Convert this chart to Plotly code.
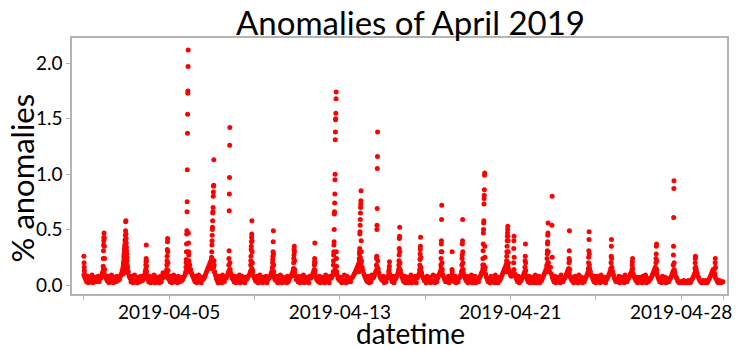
import pandas as pd
import plotly.graph_objects as go

# Hourly anomaly share (in hundredths of a percent), one row per day of April 2019
hourly_rows = [
    "9 7 5 3 8 2 4 7 3 9 2 5 7 3 6 4 8 3 7 6 9 11 14 10",      # Apr 01
    "8 6 4 8 2 6 3 9 5 2 7 4 3 8 4 6 5 8 10 13 16 20 24 27",    # Apr 02
    "22 16 12 8 6 3 8 2 4 9 3 5 2 7 6 3 8 6 4 7 9 12 10 6",     # Apr 03
    "5 3 8 2 7 5 3 9 2 5 7 3 6 2 8 3 6 11 7 8 10 12 9 6",       # Apr 04
    "5 3 8 2 4 9 3 6 4 2 8 4 3 7 4 5 7 8 10 12 14 16 20 18",    # Apr 05
    "14 11 9 7 5 3 8 2 4 9 3 6 2 7 5 6 8 10 12 14 16 18 20 22", # Apr 06
    "24 20 16 12 9 6 4 2 8 3 6 2 9 5 3 7 6 8 10 12 14 11 9 6",  # Apr 07
    "5 3 8 2 4 7 3 9 2 4 8 3 6 2 7 5 6 8 9 11 13 15 12 8",      # Apr 08
    "6 4 3 8 2 6 9 3 5 2 7 3 5 8 2 5 6 7 9 11 13 10 7 5",       # Apr 09
    "4 8 2 5 3 9 4 2 7 3 6 4 2 8 3 5 7 8 10 12 14 11 8 5",      # Apr 10
    "6 3 8 2 4 6 3 9 2 4 7 3 5 2 8 6 7 9 11 13 10 7 5 4",       # Apr 11
    "3 8 2 5 7 3 6 2 9 3 6 4 2 8 6 7 9 11 13 16 12 9 6 5",      # Apr 12
    "4 7 2 5 3 9 4 2 8 3 6 4 3 6 7 8 10 11 13 15 17 19 22 25",  # Apr 13
    "20 16 13 10 8 6 4 3 8 2 6 3 9 6 7 9 11 13 16 14 11 8 6 5", # Apr 14
    "4 8 2 5 3 6 8 12 10 7 5 3 8 2 5 6 8 10 12 15 13 10 7 5",   # Apr 15
    "3 8 2 5 7 2 6 3 9 2 6 4 3 8 2 6 8 10 12 14 11 8 6 4",      # Apr 16
    "5 2 8 3 4 7 2 5 3 9 4 2 8 3 6 8 10 12 15 12 9 7 5 3",      # Apr 17
    "6 3 8 2 4 6 9 7 5 3 8 2 5 3 6 7 9 12 14 11 8 6 4 8",       # Apr 18
    "2 7 3 5 9 2 6 3 8 2 6 4 3 6 8 10 12 15 18 14 10 7 5 3",    # Apr 19
    "6 2 8 3 6 4 2 9 3 6 2 7 4 6 8 10 12 14 16 18 20 17 14 11", # Apr 20
    "9 8 10 12 14 10 7 5 3 8 2 5 4 6 8 10 12 9 7 5 3 8 2 5",    # Apr 21
    "3 7 2 5 9 2 6 3 8 2 6 4 6 8 10 12 14 17 20 15 12 16 10 7", # Apr 22
    "5 3 8 2 4 7 3 6 2 9 4 3 5 6 8 10 12 14 11 8 6 4 7 2",      # Apr 23
    "4 8 3 5 2 9 4 3 7 2 6 3 5 7 9 11 13 15 12 9 7 5 3 8",      # Apr 24
    "2 5 8 6 3 2 9 4 6 3 7 2 5 6 8 10 12 14 16 12 9 6 4 3",     # Apr 25
    "5 3 8 2 4 7 3 6 2 9 5 3 5 6 8 10 11 13 10 8 6 4 7 2",      # Apr 26
    "4 7 3 5 2 8 4 3 9 2 6 3 4 5 6 8 10 12 14 16 13 10 7 5",    # Apr 27
    "3 5 2 8 4 3 7 2 6 4 3 5 6 8 10 12 14 11 8 6 4 3 2 3",      # Apr 28
    "3 2 3 4 2 3 3 2 4 3 2 3 5 6 8 10 12 14 11 8 6 4 3 2",      # Apr 29
    "3 4 2 3 4 2 3 5 6 8 10 12 14 11 8 6 5 3 2 4 3 2 3 3",      # Apr 30
]

# Short bursts sampled every 10 minutes: (start time, % anomalies)
burst_starts = [
    "2019-04-01 00:00", "2019-04-01 21:30", "2019-04-02 20:00", "2019-04-03 21:20",
    "2019-04-04 21:00", "2019-04-05 18:40", "2019-04-06 23:10", "2019-04-07 18:50",
    "2019-04-08 19:30", "2019-04-09 20:00", "2019-04-10 19:40", "2019-04-11 19:00",
    "2019-04-12 16:30", "2019-04-13 21:30", "2019-04-14 17:00", "2019-04-15 07:20",
    "2019-04-15 18:00", "2019-04-16 17:40", "2019-04-17 17:30", "2019-04-18 06:10",
    "2019-04-18 17:10", "2019-04-19 16:40", "2019-04-20 19:20", "2019-04-21 03:30",
    "2019-04-21 16:10", "2019-04-22 16:50", "2019-04-22 22:40", "2019-04-23 17:30",
    "2019-04-24 15:30", "2019-04-25 16:50", "2019-04-26 16:40", "2019-04-27 19:20",
    "2019-04-28 15:00", "2019-04-29 15:30", "2019-04-30 14:00",
]
burst_values = [
    [0.26, 0.20, 0.16, 0.13, 0.10],
    [0.12, 0.17, 0.24, 0.31, 0.36, 0.40, 0.43, 0.47, 0.42, 0.35, 0.24, 0.14],
    [0.10, 0.12, 0.15, 0.18, 0.20, 0.22, 0.25, 0.27, 0.28, 0.30, 0.32, 0.33,
     0.35, 0.37, 0.40, 0.41, 0.45, 0.49, 0.57, 0.58, 0.46, 0.42, 0.38, 0.34,
     0.31, 0.28, 0.25, 0.22, 0.18, 0.14, 0.11],
    [0.10, 0.14, 0.18, 0.21, 0.24, 0.36, 0.22, 0.17, 0.12],
    [0.10, 0.14, 0.18, 0.22, 0.26, 0.32, 0.39, 0.42, 0.30, 0.20, 0.13],
    [0.12, 0.16, 0.20, 0.23, 0.30, 0.37, 0.46, 0.49, 0.66, 0.75, 1.04, 1.37,
     1.54, 1.73, 1.75, 1.97, 2.12, 0.47, 0.38, 0.30, 0.27, 0.22, 0.16, 0.12],
    [0.15, 0.18, 0.22, 0.25, 0.30, 0.36, 0.40, 0.45, 0.50, 0.52, 0.58, 0.65,
     0.66, 0.70, 0.80, 0.84, 0.89, 0.90, 1.13, 0.22, 0.18, 0.12],
    [0.12, 0.18, 0.24, 0.31, 0.67, 0.82, 0.97, 1.26, 1.42, 0.20, 0.14],
    [0.12, 0.18, 0.22, 0.26, 0.32, 0.35, 0.39, 0.43, 0.46, 0.58, 0.40, 0.30, 0.20, 0.13],
    [0.12, 0.16, 0.20, 0.23, 0.26, 0.30, 0.39, 0.49, 0.28, 0.18, 0.12],
    [0.10, 0.15, 0.20, 0.24, 0.27, 0.32, 0.35, 0.30, 0.22, 0.14],
    [0.10, 0.14, 0.18, 0.21, 0.24, 0.38, 0.20, 0.13],
    [0.12, 0.18, 0.22, 0.27, 0.30, 0.36, 0.39, 0.50, 0.64, 0.66, 0.74, 0.82,
     0.95, 1.00, 1.31, 1.38, 1.49, 1.50, 1.55, 1.68, 1.74, 0.30, 0.24, 0.17, 0.12],
    [0.12, 0.18, 0.24, 0.28, 0.30, 0.33, 0.46, 0.48, 0.54, 0.59, 0.65, 0.70,
     0.73, 0.76, 0.85, 0.40, 0.30, 0.22, 0.15],
    [0.12, 0.18, 0.24, 0.26, 0.50, 0.54, 0.69, 1.05, 1.16, 1.38, 0.22, 0.15],
    [0.10, 0.14, 0.17, 0.21],
    [0.10, 0.14, 0.18, 0.22, 0.27, 0.33, 0.42, 0.44, 0.52, 0.30, 0.20, 0.13],
    [0.10, 0.14, 0.18, 0.23, 0.28, 0.32, 0.35, 0.43, 0.25, 0.16],
    [0.12, 0.18, 0.24, 0.30, 0.37, 0.40, 0.59, 0.72, 0.30, 0.20, 0.14],
    [0.14, 0.30, 0.12],
    [0.12, 0.18, 0.24, 0.27, 0.37, 0.40, 0.59, 0.30, 0.20, 0.14],
    [0.12, 0.18, 0.24, 0.31, 0.37, 0.47, 0.50, 0.56, 0.58, 0.73, 0.78, 0.81,
     0.86, 0.99, 1.01, 0.35, 0.25, 0.16],
    [0.12, 0.18, 0.22, 0.26, 0.30, 0.35, 0.40, 0.44, 0.47, 0.50, 0.53, 0.44,
     0.40, 0.30, 0.20, 0.14],
    [0.20, 0.33, 0.40, 0.44, 0.25],
    [0.10, 0.16, 0.22, 0.26, 0.37, 0.20, 0.13],
    [0.12, 0.18, 0.24, 0.28, 0.31, 0.37, 0.39, 0.45, 0.47, 0.56, 0.30, 0.20],
    [0.54, 0.80, 0.25],
    [0.10, 0.15, 0.20, 0.24, 0.31, 0.49, 0.22, 0.14],
    [0.10, 0.15, 0.20, 0.25, 0.31, 0.41, 0.48, 0.28, 0.18, 0.12],
    [0.10, 0.15, 0.20, 0.26, 0.35, 0.41, 0.24, 0.14],
    [0.10, 0.14, 0.18, 0.21, 0.24, 0.15],
    [0.10, 0.15, 0.20, 0.24, 0.28, 0.35, 0.37, 0.22, 0.14],
    [0.12, 0.18, 0.27, 0.35, 0.61, 0.87, 0.94, 0.20, 0.13],
    [0.10, 0.15, 0.20, 0.24, 0.26, 0.16],
    [0.10, 0.15, 0.20, 0.24, 0.16],
]

# Axis ticks: every fourth day, labelled on alternate ticks
tick_dates = ["2019-04-01", "2019-04-05", "2019-04-09", "2019-04-13", "2019-04-17",
              "2019-04-21", "2019-04-25", "2019-04-29", "2019-05-01"]
tick_labels = ["", "2019-04-05", "", "2019-04-13", "", "2019-04-21", "", "2019-04-28", ""]
y_ticks = [0.0, 0.5, 1.0, 1.5, 2.0]

# Assemble one time-ordered series
hourly_vals = [int(v) / 100 for row in hourly_rows for v in row.split()]
hourly_time = pd.date_range("2019-04-01 00:00", periods=len(hourly_vals), freq="h")
frames = [pd.DataFrame({"datetime": hourly_time, "pct": hourly_vals})]
for start, vals in zip(burst_starts, burst_values):
    t = pd.date_range(start, periods=len(vals), freq="10min")
    frames.append(pd.DataFrame({"datetime": t, "pct": vals}))
df = pd.concat(frames).sort_values("datetime")

FONT = "Lato"
fig = go.Figure(go.Scatter(
    x=df["datetime"], y=df["pct"], mode="markers",
    marker=dict(color="#ff0000", size=5, line=dict(width=0)),
    showlegend=False,
))

W, H = 737, 350
L, R, T, B = 72, 5, 38, 56
axis_style = dict(showline=True, linecolor="#b4b4b4", linewidth=1.5, mirror=True,
                  showgrid=False, zeroline=False, ticks="outside", ticklen=4,
                  tickcolor="#b4b4b4", tickwidth=1,
                  tickfont=dict(family=FONT, size=19, color="#000000"))

pw, ph = W - L - R, H - T - B
def px_x(px):
    return (px - L) / pw
def px_y(py):
    return (H - B - py) / ph

fig.update_layout(
    width=W, height=H,
    margin=dict(l=L, r=R, t=T, b=B),
    paper_bgcolor="white", plot_bgcolor="white",
    xaxis=dict(type="date", range=["2019-03-31 10:35", "2019-05-01 03:40"],
               tickmode="array", tickvals=tick_dates, ticktext=tick_labels,
               ticklabelstandoff=-4, **axis_style),
    yaxis=dict(range=[-0.081, 2.228], tickmode="array", tickvals=y_ticks,
               ticktext=[f"{v:.1f}" for v in y_ticks], **axis_style),
    annotations=[
        dict(text="Anomalies of April 2019", x=px_x(413), y=px_y(22),
             xref="paper", yref="paper", xanchor="center", yanchor="middle",
             showarrow=False, font=dict(family=FONT, size=33, color="#000000")),
        dict(text="datetime", x=px_x(413), y=px_y(333),
             xref="paper", yref="paper", xanchor="center", yanchor="middle",
             showarrow=False, font=dict(family=FONT, size=28, color="#000000")),
        dict(text="% anomalies", textangle=-90, x=px_x(22), y=px_y(178),
             xref="paper", yref="paper", xanchor="center", yanchor="middle",
             showarrow=False, font=dict(family=FONT, size=31, color="#000000")),
    ],
)

fig.write_html("out.html")
